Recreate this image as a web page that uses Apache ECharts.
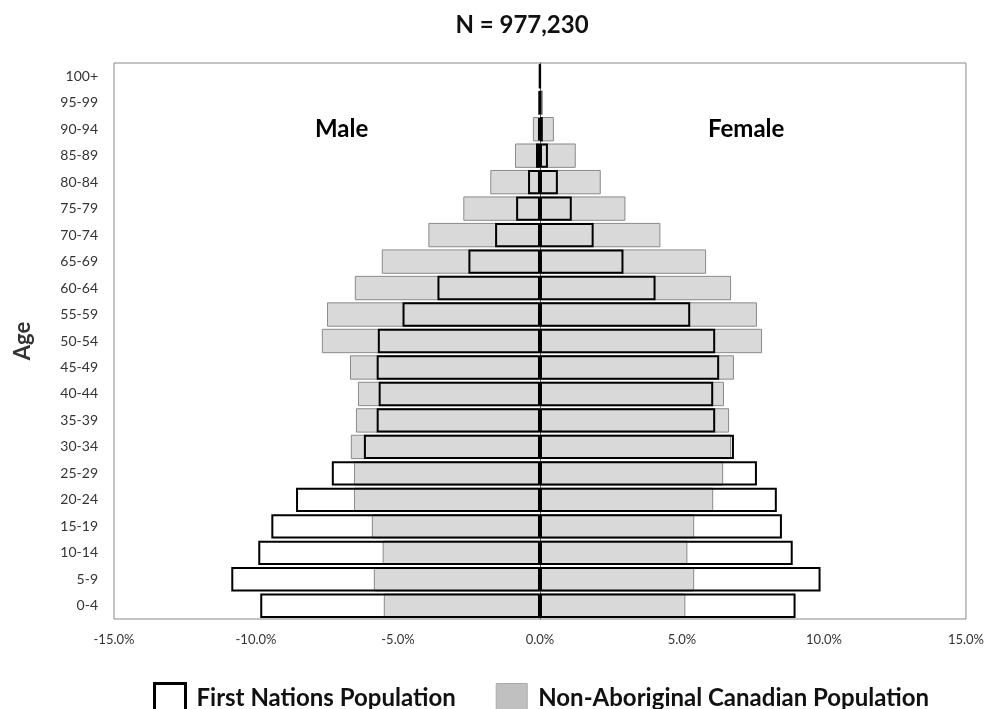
<!DOCTYPE html>
<html>
<head>
<meta charset="utf-8">
<script src="https://cdn.jsdelivr.net/npm/echarts@6/dist/echarts.min.js"></script>
<style>html,body{margin:0;padding:0;background:#fff;}#c{width:987px;height:709px;}</style>
</head>
<body>
<div id="c"></div>
<script>
var ageGroups = ['0-4','5-9','10-14','15-19','20-24','25-29','30-34','35-39','40-44','45-49','50-54','55-59','60-64','65-69','70-74','75-79','80-84','85-89','90-94','95-99','100+'];
var fnMale = [-9.85,-10.87,-9.92,-9.46,-8.59,-7.33,-6.20,-5.75,-5.68,-5.75,-5.71,-4.84,-3.61,-2.52,-1.58,-0.84,-0.42,-0.14,-0.07,-0.03,-0.02];
var fnFemale = [9.00,9.88,8.90,8.52,8.34,7.64,6.83,6.17,6.10,6.31,6.17,5.29,4.07,2.94,1.89,1.12,0.63,0.28,0.10,0.04,0.01];
var naMale = [-5.50,-5.85,-5.54,-5.92,-6.55,-6.55,-6.66,-6.48,-6.41,-6.69,-7.68,-7.50,-6.52,-5.57,-3.93,-2.70,-1.75,-0.88,-0.25,-0.07,-0.02];
var naFemale = [5.12,5.43,5.19,5.43,6.10,6.45,6.73,6.66,6.48,6.83,7.82,7.64,6.73,5.85,4.24,3.01,2.14,1.26,0.49,0.10,0.03];
var xTicks = [-15,-10,-5,0,5,10,15];

var FN = 'First Nations Population';
var NA = 'Non-Aboriginal Canadian Population';
var font = 'Lato, "Open Sans", sans-serif';

var naStyle = {color:'#d9d9d9', borderColor:'#8a8a8a', borderWidth:1};
var fnStyle = {color:'rgba(255,255,255,0)', borderColor:'#000', borderWidth:2};

var chart = echarts.init(document.getElementById('c'));
chart.setOption({
  animation:false,
  backgroundColor:'#fff',
  title:{text:'N = 977,230', left:517, top:8, textAlign:'center',
    textStyle:{fontFamily:font, fontSize:24, fontWeight:'bold', color:'#111'}},
  graphic:[
    {type:'text', left:315, top:117, style:{text:'Male', font:'bold 24px '+font, fill:'#000'}},
    {type:'text', left:708, top:117, style:{text:'Female', font:'bold 24px '+font, fill:'#000'}}
  ],
  legend:{
    bottom:-10, left:148, itemWidth:31, itemHeight:29, itemGap:40,
    textStyle:{fontFamily:font, fontSize:24, color:'#111', fontWeight:'bold', padding:[8,0,0,6]},
    data:[
      {name:FN, icon:'rect', itemStyle:{color:'#fff', borderColor:'#000', borderWidth:3}},
      {name:NA, icon:'rect', itemStyle:{color:'#c0c0c0', borderColor:'#aaa', borderWidth:1}}
    ],
    selectedMode:false
  },
  grid:{left:114, right:19, top:63, bottom:90, show:true, borderColor:'#888', borderWidth:1},
  xAxis:{type:'value', min:-15, max:15, interval:5,
    axisLine:{show:false}, axisTick:{show:false}, splitLine:{show:false},
    axisLabel:{fontFamily:font, fontSize:13, color:'#333', margin:14,
      formatter:function(v){return v.toFixed(1)+'%';}}},
  yAxis:{type:'category', data:ageGroups, name:'Age', nameLocation:'middle', nameGap:80, nameRotate:90,
    nameTextStyle:{fontFamily:font, fontSize:22, fontWeight:'bold', color:'#333'},
    axisLine:{show:true, lineStyle:{color:'#555'}}, axisTick:{show:false},
    axisLabel:{fontFamily:font, fontSize:14, color:'#333', margin:16}},
  series:[
    {name:NA, type:'bar', data:naMale, itemStyle:naStyle, barGap:'-100%', barCategoryGap:'8%'},
    {name:NA, type:'bar', data:naFemale, itemStyle:naStyle, barGap:'-100%', barCategoryGap:'8%'},
    {name:FN, type:'bar', data:fnMale, itemStyle:fnStyle, barGap:'-100%', barCategoryGap:'8%'},
    {name:FN, type:'bar', data:fnFemale, itemStyle:fnStyle, barGap:'-100%', barCategoryGap:'8%'}
  ]
});
</script>
</body>
</html>
